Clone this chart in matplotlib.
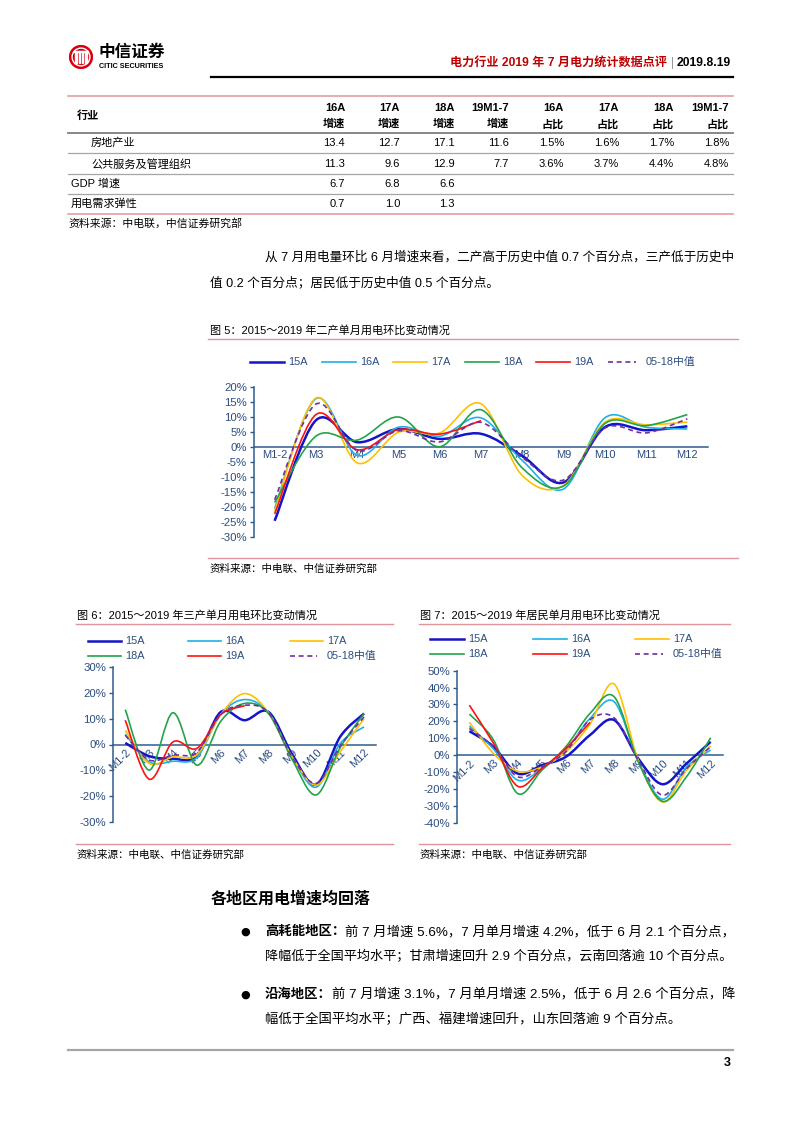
import numpy as np
import matplotlib
matplotlib.use('Agg')
import matplotlib.pyplot as plt
from matplotlib.path import Path
from matplotlib.patches import PathPatch, Circle, Rectangle
from matplotlib.lines import Line2D
from matplotlib.ticker import FuncFormatter

plt.rcParams['font.family'] = ['Liberation Sans', 'Noto Sans CJK SC', 'DejaVu Sans']

# ---- data ----
months = ['M1-2', 'M3', 'M4', 'M5', 'M6', 'M7', 'M8', 'M9', 'M10', 'M11', 'M12']
names = ['15A', '16A', '17A', '18A', '19A', '05-18中值']

# fig 5: secondary industry, month-on-month %
s2_15 = [-24.6, 8.9, 1.6, 6.0, 2.7, 4.4, -3.0, -11.8, 6.6, 5.6, 6.9]
s2_16 = [-20.5, 16.1, -2.8, 6.6, 3.6, 9.7, -4.5, -14.0, 9.7, 6.6, 6.0]
s2_17 = [-21.4, 16.3, -5.3, 4.9, 4.7, 14.4, -9.5, -12.8, 8.2, 7.4, 8.3]
s2_18 = [-18.5, 3.6, 2.3, 10.0, 0.1, 12.4, -7.0, -13.0, 7.8, 7.1, 10.8]
s2_19 = [-22.3, 10.8, -0.9, 5.8, 4.3, 8.8]
s2_md = [-17.6, 14.3, -1.2, 5.4, 1.7, 8.2, -3.5, -11.0, 6.3, 4.7, 9.4]

# fig 6: tertiary industry
s3_15 = [0.6, -4.5, -5.5, -4.5, 12.6, 9.4, 12.6, -4.0, -15.5, 3.0, 12.0]
s3_16 = [4.0, -6.7, -6.5, -5.0, 11.6, 17.4, 12.3, -5.0, -16.5, 0.4, 6.8]
s3_17 = [5.5, -7.3, -4.8, -4.0, 11.6, 19.7, 12.3, -5.0, -15.7, -2.8, 10.0]
s3_18 = [13.5, -9.9, 12.3, -8.0, 9.0, 15.9, 12.0, -6.0, -19.5, -1.2, 12.0]
s3_19 = [9.4, -13.4, 1.0, -1.5, 11.6, 15.0]
s3_md = [3.6, -6.0, -4.1, -3.0, 11.6, 15.2, 12.3, -5.0, -15.0, -0.6, 10.7]

# fig 7: residential
s7_15 = [14.2, 5.0, -10.9, -6.0, -1.0, 11.9, 20.8, -2.0, -17.2, -5.0, 7.9]
s7_16 = [17.2, 3.6, -14.8, -8.0, 3.0, 21.7, 31.6, -3.0, -26.1, -7.0, 3.0]
s7_17 = [19.4, 1.0, -9.5, -7.0, 2.0, 18.4, 42.1, -3.0, -27.7, -9.0, 5.5]
s7_18 = [24.3, 9.0, -22.7, -9.0, 5.0, 24.7, 34.6, -4.0, -27.3, -12.8, 10.3]
s7_19 = [29.6, 7.0, -18.4, -8.0, 4.0, 19.4]
s7_md = [15.8, 5.0, -12.8, -7.0, 2.0, 21.0, 22.1, -3.0, -23.7, -8.0, 5.0]

# table
tab_top = ['16A', '17A', '18A', '19M1-7', '16A', '17A', '18A', '19M1-7']
tab_bot = ['增速', '增速', '增速', '增速', '占比', '占比', '占比', '占比']
tab_rows = ['房地产业', '公共服务及管理组织', 'GDP 增速', '用电需求弹性']
tab_vals = [
    ['13.4', '12.7', '17.1', '11.6', '1.5%', '1.6%', '1.7%', '1.8%'],
    ['11.3', '9.6', '12.9', '7.7', '3.6%', '3.7%', '4.4%', '4.8%'],
    ['6.7', '6.8', '6.6'],
    ['0.7', '1.0', '1.3'],
]

colors = ['#1414C8', '#1EB0E8', '#FFC000', '#22A34C', '#FF1010', '#7030A0']
widths = [1.8, 1.2, 1.2, 1.2, 1.2, 1.2]
styles = ['-', '-', '-', '-', '-', (0, (3.0, 2.2))]
axc = '#2F5C8F'
tc = '#2B4C7E'
pink = '#E0959C'

W, H = 802, 1133
fig = plt.figure(figsize=(W / 100, H / 100), dpi=100)
R = fig.canvas.get_renderer()


def fx(x):
    return x / W


def fy(y):
    return 1 - y / H


def txt(x, y, s, size=9, **kw):
    kw.setdefault('va', 'center')
    return fig.text(fx(x), fy(y), s, fontsize=size, **kw)


def hline(x0, x1, y, color, lw, ls='-'):
    fig.add_artist(Line2D([fx(x0), fx(x1)], [fy(y), fy(y)], color=color, lw=lw,
                          linestyle=ls, transform=fig.transFigure))


def rich(x, y, parts, size, right=None):
    def put(sz):
        arts, cx = [], x
        for s, w in parts:
            t = txt(cx, y, s, sz, fontweight=w)
            cx += t.get_window_extent(R).width
            arts.append(t)
        return arts, cx
    arts, end = put(size)
    if right is not None:
        for a in arts:
            a.remove()
        size = size * (right - x) / (end - x)
        put(size)
    return size


def smooth(ax, vals, **kw):
    y = np.asarray(vals, float)
    x = np.arange(len(y), dtype=float)
    n = len(y)
    verts = [(x[0], y[0])]
    codes = [Path.MOVETO]
    for i in range(n - 1):
        a, b = max(i - 1, 0), min(i + 2, n - 1)
        c1 = (x[i] + (x[i + 1] - x[a]) / 6, y[i] + (y[i + 1] - y[a]) / 6)
        c2 = (x[i + 1] - (x[b] - x[i]) / 6, y[i + 1] - (y[b] - y[i]) / 6)
        verts += [c1, c2, (x[i + 1], y[i + 1])]
        codes += [Path.CURVE4] * 3
    ax.add_patch(PathPatch(Path(verts, codes), fill=False, clip_on=False,
                           joinstyle='round', capstyle='butt', **kw))


def chart(box, series, lo, hi, step, rotate, leg, leg_len, fsz):
    x0, y0, x1, y1 = box
    ax = fig.add_axes([fx(x0), fy(y1), (x1 - x0) / W, (y1 - y0) / H])
    ax.patch.set_alpha(0)
    for k, vals in enumerate(series):
        smooth(ax, vals, edgecolor=colors[k], lw=widths[k], linestyle=styles[k], zorder=3 + k)
        lx, ly = leg[k]
        ln = leg_len if k < 5 else leg_len - 6
        hline(lx, lx + ln, ly, colors[k], widths[k], styles[k])
        txt(lx + leg_len + 4, ly, names[k], fsz, color=tc)
    ax.set_xlim(-0.5, len(months) - 0.5)
    ax.set_ylim(lo, hi)
    ax.set_yticks(np.arange(lo, hi + 0.1, step))
    ax.yaxis.set_major_formatter(FuncFormatter(lambda v, p: f'{v:.0f}%'))
    ax.set_xticks(range(len(months)))
    ax.set_xticklabels(months)
    for s in ['top', 'right']:
        ax.spines[s].set_visible(False)
    ax.spines['bottom'].set_position(('data', 0))
    for s in ['bottom', 'left']:
        ax.spines[s].set_color(axc)
        ax.spines[s].set_linewidth(1.1)
    ax.tick_params(axis='x', length=0, pad=2, labelsize=fsz + 0.2, labelcolor=tc)
    ax.tick_params(axis='y', length=3, width=1, color=axc, pad=2, labelsize=fsz + 0.4, labelcolor=tc)
    if rotate:
        for lab in ax.get_xticklabels():
            lab.set_rotation(45)
            lab.set_ha('right')
            lab.set_va('top')
            lab.set_rotation_mode('anchor')
    return ax


# ---- header ----
logo = fig.add_axes([fx(69), fy(69), 24 / W, 24 / H])
logo.set_xlim(-1.05, 1.05)
logo.set_ylim(-1.05, 1.05)
logo.set_aspect('equal')
logo.axis('off')
logo.add_patch(Circle((0, 0), 1.0, color='#D7000F'))
logo.add_patch(Circle((0, 0), 0.78, fill=False, ec='white', lw=1.0))
for bx in [-0.45, -0.15, 0.15, 0.45]:
    logo.add_patch(Rectangle((bx - 0.06, -0.55), 0.12, 1.1, color='white'))
logo.add_patch(Rectangle((-0.6, 0.45), 1.2, 0.1, color='white'))
txt(99, 52, '中信证券', 12, fontweight='bold', family=['Noto Sans CJK SC'])
txt(99, 67, 'CITIC SECURITIES', 5.2, fontweight='bold')

txt(731, 63, '2019.8.19', 8.7, ha='right', fontweight='bold')
txt(672, 63, '|', 8.5, ha='center', color='#999999')
txt(667, 63, '电力行业 2019 年 7 月电力统计数据点评', 8.7, ha='right',
    fontweight='bold', color='#C00000')
hline(211, 733, 77, 'black', 1.6)

# ---- table ----
col_r = [345, 400, 455, 509, 564, 619, 674, 729]
hline(68, 733, 96, pink, 1.1)
txt(77, 116, '行业', 8, fontweight='bold')
for j in range(len(tab_top)):
    txt(col_r[j], 108, tab_top[j], 8, ha='right', fontweight='bold')
    txt(col_r[j], 124, tab_bot[j], 8, ha='right', fontweight='bold')
hline(68, 733, 133, '#7F7F7F', 1.3)
row_y = [143, 164, 184, 204]
row_x = [91, 91, 71, 71]
for i, lab in enumerate(tab_rows):
    txt(row_x[i], row_y[i], lab, 8)
    for j, v in enumerate(tab_vals[i]):
        txt(col_r[j], row_y[i], v, 8, ha='right')
    if i < len(tab_rows) - 1:
        hline(68, 733, row_y[i] + 10, '#A6A6A6', 0.9)
hline(68, 733, 214, pink, 1.1)
txt(68, 223, '资料来源：中电联，中信证券研究部', 7.8)

# ---- paragraph ----
fs = rich(265, 257, [('从 7 月用电量环比 6 月增速来看，二产高于历史中值 0.7 个百分点，三产低于历史中', 'normal')], 9, right=735)
rich(210, 283, [('值 0.2 个百分点；居民低于历史中值 0.5 个百分点。', 'normal')], fs)

# ---- figure 5 ----
txt(210, 330, '图 5：2015～2019 年二产单月用电环比变动情况', 8)
hline(208, 738, 339, pink, 1.0)
leg5 = [(250, 362), (322, 362), (393, 362), (465, 362), (536, 362), (608, 362)]
chart((254, 387, 708, 537), [s2_15, s2_16, s2_17, s2_18, s2_19, s2_md],
      -30, 20, 5, False, leg5, 34, 7.8)
hline(208, 738, 558, pink, 1.0)
txt(210, 569, '资料来源：中电联、中信证券研究部', 7.6)

# ---- figure 6 ----
txt(77, 615, '图 6：2015～2019 年三产单月用电环比变动情况', 8)
hline(76, 393, 624, pink, 1.0)
leg6 = [(88, 641), (188, 641), (290, 641), (88, 656), (188, 656), (290, 656)]
chart((113.3, 667, 376, 822), [s3_15, s3_16, s3_17, s3_18, s3_19, s3_md],
      -30, 30, 10, True, leg6, 33, 7.8)
hline(76, 393, 844, pink, 1.0)
txt(77, 855, '资料来源：中电联、中信证券研究部', 7.6)

# ---- figure 7 ----
txt(420, 615, '图 7：2015～2019 年居民单月用电环比变动情况', 8)
hline(419, 730, 624, pink, 1.0)
leg7 = [(430, 639), (533, 639), (635, 639), (430, 654), (533, 654), (635, 654)]
chart((457.3, 670.7, 722.7, 822.7), [s7_15, s7_16, s7_17, s7_18, s7_19, s7_md],
      -40, 50, 10, True, leg7, 34, 7.8)
hline(419, 730, 844, pink, 1.0)
txt(420, 855, '资料来源：中电联、中信证券研究部', 7.6)

# ---- regional section ----
txt(211, 899, '各地区用电增速均回落', 11.5, fontweight='bold')
txt(245, 932, '●', 8, ha='center', family=['DejaVu Sans'])
b1 = rich(265, 932, [('高耗能地区：', 'bold'),
                     ('前 7 月增速 5.6%，7 月单月增速 4.2%，低于 6 月 2.1 个百分点，', 'normal')], 9.5, right=735)
rich(265, 957, [('降幅低于全国平均水平；甘肃增速回升 2.9 个百分点，云南回落逾 10 个百分点。', 'normal')], 9.5, right=735)
txt(245, 995, '●', 8, ha='center', family=['DejaVu Sans'])
b2 = rich(265, 995, [('沿海地区：', 'bold'),
                     ('前 7 月增速 3.1%，7 月单月增速 2.5%，低于 6 月 2.6 个百分点，降', 'normal')], 9.5, right=735)
rich(265, 1019, [('幅低于全国平均水平；广西、福建增速回升，山东回落逾 9 个百分点。', 'normal')], b2)

hline(68, 733, 1050, '#A6A6A6', 1.6)
txt(731, 1063, '3', 9, ha='right', fontweight='bold')

fig.savefig('out.png', dpi=100)
